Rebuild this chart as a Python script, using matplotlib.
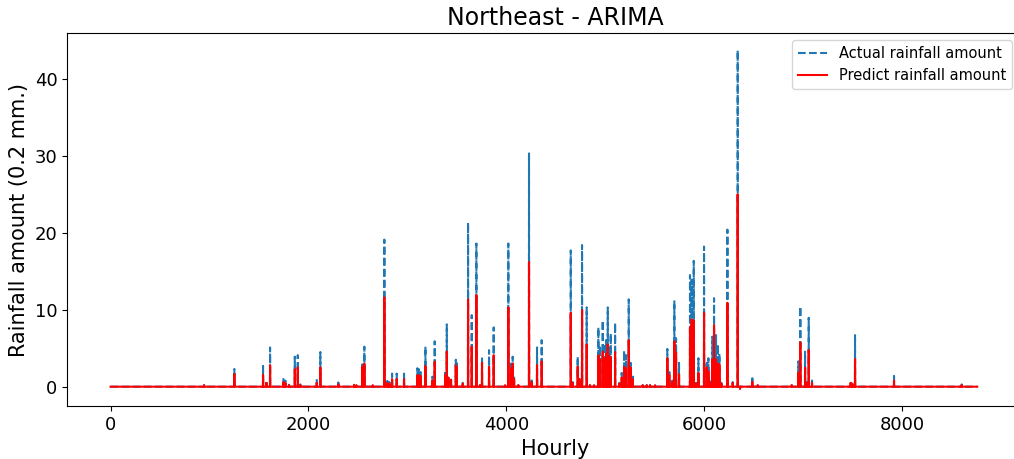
import numpy as np
import matplotlib
matplotlib.use('Agg')
import matplotlib.pyplot as plt

# hourly series length (one year)
n_hours = 8760

# rain events: hour, actual amount, predicted amount
spike_hours = [945, 1251, 1541, 1575, 1612, 1747, 1767, 1804, 1862, 1892, 1918,
               2084, 2120, 2302, 2461, 2484, 2545, 2565, 2650, 2767, 2797, 2818,
               2845, 2892, 2966, 3101, 3114, 3135, 3182, 3253, 3276, 3381, 3398,
               3414, 3441, 3489, 3499, 3559, 3613, 3650, 3697, 3734, 3754, 3825,
               3872, 3987, 4020, 4047, 4064, 4078, 4121, 4229, 4256, 4310, 4357,
               4651, 4671, 4721, 4738, 4765, 4812, 4845, 4886, 4930, 4947, 4974,
               4990, 5008, 5025, 5041, 5055, 5099, 5142, 5166, 5190, 5210, 5237,
               5257, 5277, 5378, 5419, 5452, 5503, 5627, 5647, 5678, 5698, 5715,
               5745, 5856, 5873, 5894, 5917, 5941, 5998, 6025, 6042, 6059, 6082,
               6099, 6119, 6137, 6153, 6173, 6234, 6288, 6338, 6362, 6486, 6541,
               6884, 6951, 6971, 7019, 7036, 7056, 7089, 7480, 7497, 7524, 7918,
               8602]
actual_peaks = [0.2, 2.3, 2.7, 0.8, 5.1, 1.0, 0.8, 0.25, 3.9, 4.1, 0.3,
                1.0, 4.5, 0.55, 0.25, 0.25, 2.9, 5.2, 0.3, 19.1, 0.75, 0.6,
                1.7, 1.7, 1.7, 2.4, 2.3, 1.9, 5.2, 1.3, 5.9, 2.1, 8.1,
                1.4, 0.9, 3.5, 3.3, 0.5, 21.3, 9.3, 18.6, 0.3, 3.8, 4.75,
                7.7, 0.2, 18.6, 3.0, 3.9, 1.2, 0.2, 30.3, 0.8, 5.1, 6.05,
                17.7, 0.6, 3.9, 1.0, 18.4, 10.3, 0.2, 0.2, 7.7, 5.3, 8.6,
                5.6, 6.05, 10.3, 5.1, 6.9, 8.3, 0.5, 1.8, 4.7, 4.1, 11.35,
                3.1, 1.6, 0.2, 0.2, 0.2, 0.2, 4.9, 1.9, 0.8, 11.1, 6.3,
                3.1, 14.5, 13.9, 16.35, 0.5, 3.7, 18.2, 3.1, 3.7, 0.7, 6.5,
                11.5, 6.7, 5.5, 4.3, 0.5, 20.4, 0.6, 43.7, 0.0, 1.1, 0.3,
                0.2, 3.3, 10.4, 4.55, 0.6, 8.95, 0.8, 0.75, 0.5, 6.7, 1.4,
                0.3]
predict_peaks = [0.2, 1.65, 1.55, 0.5, 2.8, 0.6, 0.5, 0.2, 2.25, 2.5, 0.2,
                 0.5, 2.5, 0.3, 0.2, 0.2, 2.6, 3.0, 0.2, 11.6, 0.5, 0.4,
                 1.0, 1.0, 1.0, 1.5, 1.5, 1.4, 2.7, 0.8, 3.25, 1.5, 4.55,
                 1.2, 0.9, 2.8, 2.5, 0.4, 11.35, 5.2, 11.9, 0.2, 3.1, 2.6,
                 4.1, 0.2, 10.3, 2.4, 3.0, 1.0, 0.2, 16.2, 0.6, 2.8, 3.3,
                 9.6, 0.5, 2.6, 1.0, 9.95, 5.5, 0.2, 0.2, 4.1, 3.5, 4.55,
                 3.7, 4.3, 5.5, 4.0, 3.8, 4.5, 0.4, 1.2, 2.6, 2.4, 6.05,
                 2.5, 1.0, 0.2, 0.2, 0.2, 0.2, 3.7, 1.5, 0.6, 5.9, 4.4,
                 1.6, 7.7, 8.75, 8.6, 0.4, 1.8, 9.6, 2.5, 2.0, 0.5, 3.55,
                 8.0, 3.55, 3.0, 2.9, 0.4, 10.9, 0.5, 25.0, -0.3, 0.65, 0.2,
                 0.2, 1.8, 5.75, 2.45, 0.5, 4.75, 0.5, 0.5, 0.4, 3.6, 0.8,
                 0.2]

hours = np.arange(n_hours)
actual = np.zeros(n_hours)
predict = np.zeros(n_hours)
actual[spike_hours] = actual_peaks
predict[spike_hours] = predict_peaks

fig = plt.figure(figsize=(10.14, 4.59), dpi=100)
# the original figure is cut on the right, so the axes run past the edge
ax = fig.add_axes([0.0663, 0.1156, 0.9633, 0.8119])

ax.plot(hours, actual, '--', color='#1f77b4', linewidth=1.5, label='Actual rainfall amount')
ax.plot(hours, predict, '-', color='red', linewidth=1.5, label='Predict rainfall amount')

ax.set_xlim(-438, 9434)
ax.spines['right'].set_visible(False)
ax.set_title('Northeast - ARIMA', fontsize=17)
ax.set_xlabel('Hourly', fontsize=15)
ax.set_ylabel('Rainfall amount (0.2 mm.)', fontsize=15)
ax.tick_params(labelsize=13)
ax.set_xticks([0, 2000, 4000, 6000, 8000])
ax.set_yticks([0, 10, 20, 30, 40])

ax.legend(loc='upper right', fontsize=10.5, bbox_to_anchor=(1012 / 1014, 1 - 40 / 459),
          bbox_transform=fig.transFigure, borderaxespad=0)

plt.savefig('out.png', dpi=100)
